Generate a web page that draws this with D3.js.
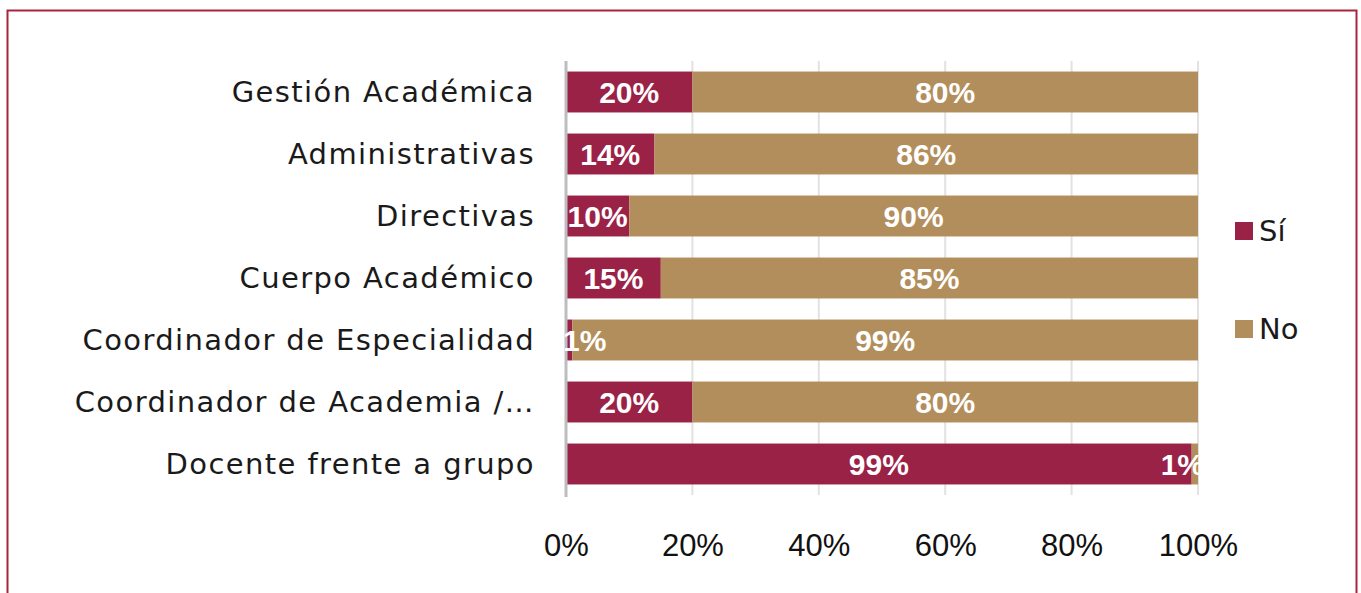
<!DOCTYPE html>
<html>
<head>
<meta charset="utf-8">
<script src="https://cdn.jsdelivr.net/npm/d3@7"></script>
<style>
  body { margin: 0; background: #fff; }
  svg { display: block; }
</style>
</head>
<body>
<svg id="chart" width="1361" height="593"></svg>
<script>
const categories = [
  'Gestión Académica',
  'Administrativas',
  'Directivas',
  'Cuerpo Académico',
  'Coordinador de Especialidad',
  'Coordinador de Academia /…',
  'Docente frente a grupo'
]
const siValues = [20, 14, 10, 15, 1, 20, 99]
const noValues = [80, 86, 90, 85, 99, 80, 1]
const seriesNames = ['Sí', 'No']
const seriesColors = ['#9b2247', '#b28e5c']
const xTicks = [0, 20, 40, 60, 80, 100]

const svg = d3.select('#chart')
const width = 1361
const height = 593
const margin = { top: 61, left: 566, right: 163, bottom: 98 }

// marco
svg.append('rect')
  .attr('x', 7.5).attr('y', 10.5)
  .attr('width', 1349).attr('height', 600)
  .attr('fill', 'none')
  .attr('stroke', '#a8243f')
  .attr('stroke-width', 2)

const x = d3.scaleLinear()
  .domain([0, 100])
  .range([margin.left, width - margin.right])

const y = d3.scaleBand()
  .domain(categories)
  .range([margin.top, height - margin.bottom])
  .paddingInner(0.34)
  .paddingOuter(0.17)

// grid
svg.append('g')
  .selectAll('line')
  .data(xTicks.slice(1))
  .join('line')
  .attr('x1', d => x(d)).attr('x2', d => x(d))
  .attr('y1', margin.top).attr('y2', height - margin.bottom)
  .attr('stroke', '#e2e2e2')
  .attr('stroke-width', 2)

const rows = categories.map((c, i) => ({ cat: c, si: siValues[i], no: noValues[i] }))
const stacked = d3.stack().keys(['si', 'no'])(rows)

svg.append('g')
  .selectAll('g')
  .data(stacked)
  .join('g')
  .attr('fill', (d, i) => seriesColors[i])
  .selectAll('rect')
  .data(d => d)
  .join('rect')
  .attr('x', d => x(d[0]))
  .attr('y', d => y(d.data.cat))
  .attr('width', d => x(d[1]) - x(d[0]))
  .attr('height', y.bandwidth())

// eje vertical
svg.append('line')
  .attr('x1', x(0)).attr('x2', x(0))
  .attr('y1', margin.top).attr('y2', height - margin.bottom + 2)
  .attr('stroke', '#bdbdbd')
  .attr('stroke-width', 3)

// etiquetas de valor
svg.append('clipPath').attr('id', 'plotclip')
  .append('rect')
  .attr('x', x(0) - 4).attr('y', 0)
  .attr('width', x(100) - x(0) + 6).attr('height', height)

const labels = svg.append('g')
  .attr('clip-path', 'url(#plotclip)')
  .attr('font-family', 'Liberation Sans, Arial, sans-serif')
  .attr('font-weight', 'bold')
  .attr('font-size', 30)
  .attr('fill', '#fff')
  .attr('text-anchor', 'middle')

stacked.forEach(s => {
  labels.selectAll(null)
    .data(s)
    .join('text')
    .attr('y', d => y(d.data.cat) + y.bandwidth() / 2)
    .attr('dy', '0.36em')
    .text(d => (d[1] - d[0]) + '%')
    .attr('x', function (d) {
      const w = this.getComputedTextLength()
      const c = (x(d[0]) + x(d[1])) / 2
      return Math.max(x(0) - 3 + w / 2, Math.min(x(100) + 6 - w / 2, c))
    })
})

// eje de categorías
const yAxis = svg.append('g')
  .attr('transform', `translate(${margin.left - 31},0)`)
  .call(d3.axisLeft(y).tickSize(0).tickPadding(0))
yAxis.select('.domain').remove()
yAxis.selectAll('text')
  .attr('font-family', 'DejaVu Sans, sans-serif')
  .attr('font-size', 29)
  .attr('letter-spacing', 1.4)
  .attr('fill', '#1a1a1a')
  .attr('dy', '0.35em')

// eje x
const xAxis = svg.append('g')
  .attr('transform', `translate(0,${height - margin.bottom})`)
  .call(d3.axisBottom(x).tickValues(xTicks).tickFormat(d => d + '%').tickSize(0).tickPadding(39))
xAxis.select('.domain').remove()
xAxis.selectAll('text')
  .attr('font-family', 'Liberation Sans, Arial, sans-serif')
  .attr('font-size', 31)
  .attr('fill', '#111')

// leyenda
const legend = svg.append('g')
  .selectAll('g')
  .data(seriesNames)
  .join('g')
  .attr('transform', (d, i) => `translate(1235,${231 + i * 98})`)
legend.append('rect')
  .attr('x', 0).attr('y', -9)
  .attr('width', 18).attr('height', 18)
  .attr('fill', (d, i) => seriesColors[i])
legend.append('text')
  .attr('x', 24).attr('dy', '0.36em')
  .attr('font-family', 'DejaVu Sans, sans-serif')
  .attr('font-size', 29)
  .attr('fill', '#1a1a1a')
  .text(d => d)
</script>
</body>
</html>
